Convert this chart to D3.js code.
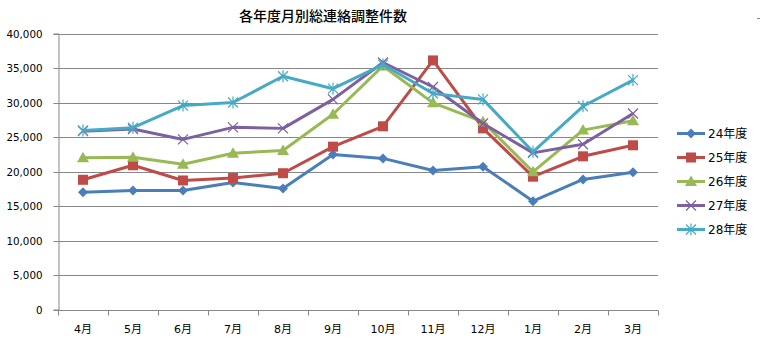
<!DOCTYPE html>
<html>
<head>
<meta charset="utf-8">
<script src="https://cdn.jsdelivr.net/npm/d3@7"></script>
<style>
  html, body { margin: 0; padding: 0; background: #fff; }
  svg { display: block; }
</style>
</head>
<body>
<svg id="chart" width="760" height="338"></svg>
<script>
const months = ["4月","5月","6月","7月","8月","9月","10月","11月","12月","1月","2月","3月"];
const seriesNames = ["24年度","25年度","26年度","27年度","28年度"];
const fy24 = [17000,17250,17250,18400,17550,22450,21900,20150,20700,15700,18850,19900];
const fy25 = [18800,20900,18700,19050,19750,23600,26550,36100,26250,19250,22200,23800];
const fy26 = [22000,22050,21050,22650,23050,28300,35300,29950,27200,19950,26000,27350];
const fy27 = [25850,26150,24650,26400,26250,30450,35800,32250,26950,22700,23950,28400];
const fy28 = [25950,26350,29550,30000,33800,32000,35500,31300,30450,22850,29450,33250];
const yTicks = [0,5000,10000,15000,20000,25000,30000,35000,40000];
const title = "各年度月別総連絡調整件数";

const colors = ["#4a7ebb","#be4b48","#98b954","#7d60a0","#46aac5"];
const markers = ["diamond","square","triangle","cross","star"];
const data = [fy24, fy25, fy26, fy27, fy28];

const svg = d3.select("#chart");
const plotLeft = 58, plotRight = 658, plotTop = 33.5, plotBottom = 309.5;

const x = d3.scaleBand().domain(months).range([plotLeft, plotRight]).padding(0);
const y = d3.scaleLinear().domain([0, 40000]).range([plotBottom, plotTop]);

const gridColor = "#878787";
const fontNum = "'DejaVu Sans', 'Noto Sans CJK JP', sans-serif";

// title
svg.append("text")
  .attr("x", 323).attr("y", 21)
  .attr("text-anchor", "middle")
  .attr("font-family", "'Noto Sans CJK JP', sans-serif")
  .attr("font-size", 14)
  .attr("font-weight", 500)
  .attr("fill", "#000")
  .text(title);

// small mark at top right
svg.append("line")
  .attr("x1", 757).attr("x2", 760).attr("y1", 18.5).attr("y2", 18.5)
  .attr("stroke", "#888").attr("stroke-width", 1);

// horizontal gridlines
svg.append("g").selectAll("line").data(yTicks.filter(d => d > 0)).join("line")
  .attr("x1", plotLeft).attr("x2", plotRight)
  .attr("y1", d => Math.round(y(d)) + 0.5).attr("y2", d => Math.round(y(d)) + 0.5)
  .attr("stroke", gridColor).attr("stroke-width", 1);

// y axis
const yAxis = d3.axisLeft(y).tickValues(yTicks).tickSize(5).tickPadding(11)
  .tickFormat(d3.format(","));
const gy = svg.append("g").attr("transform", `translate(${plotLeft + 0.5},0)`).call(yAxis);
gy.select(".domain").attr("stroke", gridColor);
gy.selectAll(".tick line").attr("stroke", gridColor);
gy.selectAll(".tick").attr("transform", d => `translate(0,${Math.round(y(d)) + 0.5})`);
gy.selectAll("text").attr("font-family", fontNum).attr("font-size", 10.3).attr("fill", "#000");

// x axis with ticks at category boundaries
const gx = svg.append("g").attr("transform", `translate(0,${Math.round(plotBottom) + 0.5})`);
gx.append("line").attr("x1", plotLeft).attr("x2", plotRight).attr("stroke", gridColor);
const bounds = d3.range(months.length + 1).map(i => plotLeft + i * x.bandwidth());
gx.selectAll("line.tk").data(bounds).join("line").attr("class", "tk")
  .attr("x1", d => Math.round(d) + 0.5).attr("x2", d => Math.round(d) + 0.5)
  .attr("y1", 0).attr("y2", 5)
  .attr("stroke", gridColor);
gx.selectAll("text").data(months).join("text")
  .attr("x", d => x(d) + x.bandwidth() / 2)
  .attr("y", 22)
  .attr("text-anchor", "middle")
  .attr("font-family", fontNum)
  .attr("font-size", 11)
  .attr("fill", "#000")
  .text(d => d);

// marker drawing
function drawMarker(g, type, color, cx, cy) {
  if (type === "diamond") {
    g.append("path").attr("d", `M${cx},${cy-5}L${cx+5},${cy}L${cx},${cy+5}L${cx-5},${cy}Z`).attr("fill", color);
  } else if (type === "square") {
    g.append("rect").attr("x", cx-5).attr("y", cy-5).attr("width", 10).attr("height", 10).attr("fill", color);
  } else if (type === "triangle") {
    g.append("path").attr("d", `M${cx},${cy-6}L${cx+6},${cy+4.5}L${cx-6},${cy+4.5}Z`).attr("fill", color);
  } else if (type === "cross") {
    g.append("path").attr("d", `M${cx-5},${cy-5}L${cx+5},${cy+5}M${cx-5},${cy+5}L${cx+5},${cy-5}`)
      .attr("stroke", color).attr("stroke-width", 1.2).attr("fill", "none");
  } else if (type === "star") {
    g.append("path").attr("d", `M${cx-5},${cy-5}L${cx+5},${cy+5}M${cx-5},${cy+5}L${cx+5},${cy-5}M${cx},${cy-6}L${cx},${cy+6}`)
      .attr("stroke", color).attr("stroke-width", 1.2).attr("fill", "none");
  }
}

const line = d3.line()
  .x((d, i) => x(months[i]) + x.bandwidth() / 2)
  .y(d => y(d));

const plot = svg.append("g");
data.forEach((vals, s) => {
  const g = plot.append("g");
  g.append("path").datum(vals)
    .attr("d", line)
    .attr("fill", "none")
    .attr("stroke", colors[s])
    .attr("stroke-width", 3)
    .attr("stroke-linejoin", "round");
  vals.forEach((v, i) => {
    drawMarker(g, markers[s], colors[s], x(months[i]) + x.bandwidth() / 2, y(v));
  });
});

// legend
const legend = svg.append("g");
seriesNames.forEach((name, s) => {
  const ly = 133.5 + s * 24;
  const g = legend.append("g");
  g.append("line").attr("x1", 677).attr("x2", 705).attr("y1", ly).attr("y2", ly)
    .attr("stroke", colors[s]).attr("stroke-width", 3);
  drawMarker(g, markers[s], colors[s], 691, ly);
  g.append("text").attr("x", 708).attr("y", ly + 4.5)
    .attr("font-family", fontNum).attr("font-size", 12).attr("fill", "#000")
    .text(name);
});
</script>
</body>
</html>
